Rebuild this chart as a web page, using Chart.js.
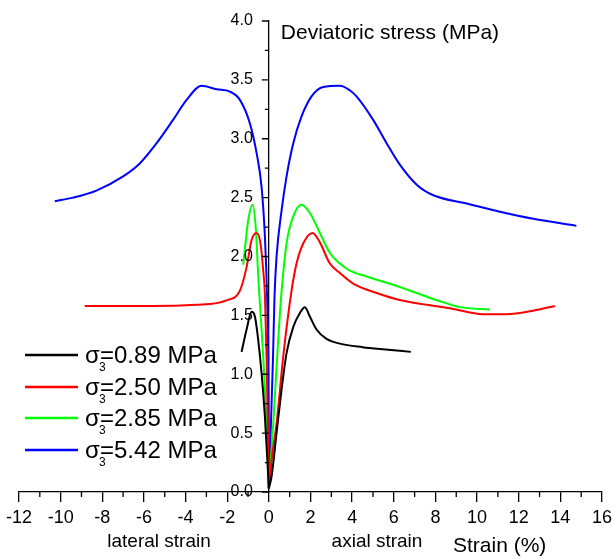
<!DOCTYPE html>
<html>
<head>
<meta charset="utf-8">
<script src="https://cdn.jsdelivr.net/npm/chart.js@4.4.1/dist/chart.umd.min.js"></script>
<style>
  html, body { margin: 0; padding: 0; background: #fff; }
  #wrap { width: 612px; height: 560px; }
</style>
</head>
<body>
<div id="wrap"><canvas id="chart" width="612" height="560"></canvas></div>
<script>
// strain (%) / deviatoric stress (MPa) pairs, each branch starts at the origin
const lateral089 = [[0,0.03],[-0.03,0.13],[-0.19,0.64],[-0.35,1.01],[-0.51,1.29],[-0.67,1.49],[-0.83,1.53],[-1.07,1.38],[-1.31,1.19]];
const axial089 = [[0,0.03],[0.13,0.13],[0.37,0.5],[0.61,0.87],[0.85,1.18],[1.17,1.4],[1.49,1.52],[1.73,1.57],[1.97,1.49],[2.29,1.38],[2.77,1.3],[3.41,1.26],[4.5,1.23],[5.6,1.21],[6.82,1.19]];

const lateral250 = [[0,0.03],[-0.05,0.58],[-0.11,1.15],[-0.19,1.68],[-0.27,1.88],[-0.4,2.11],[-0.59,2.2],[-0.83,2.14],[-1.07,1.91],[-1.39,1.71],[-2.0,1.63],[-3.5,1.59],[-6.0,1.58],[-8.84,1.58]];
const axial250 = [[0,0.03],[0.15,0.3],[0.37,0.58],[0.69,1.15],[1.09,1.71],[1.33,1.94],[1.65,2.11],[2.1,2.2],[2.45,2.12],[2.93,1.94],[3.41,1.86],[4.05,1.77],[5.18,1.69],[6.29,1.63],[7.58,1.59],[8.7,1.56],[10.3,1.51],[11.42,1.51],[12.7,1.54],[13.74,1.58]];

const lateral285 = [[0,0.03],[-0.11,0.58],[-0.27,1.15],[-0.47,1.71],[-0.53,1.9],[-0.62,2.22],[-0.78,2.44],[-0.99,2.31],[-1.23,1.93]];
const axial285 = [[0,0.03],[0.21,0.58],[0.4,1.15],[0.6,1.68],[0.85,2.11],[1.17,2.34],[1.57,2.44],[1.97,2.37],[2.45,2.2],[2.93,2.03],[3.41,1.94],[3.89,1.88],[4.69,1.83],[5.97,1.76],[7.1,1.69],[8.22,1.62],[9.18,1.57],[10.62,1.55]];

const lateral542 = [[0,0.03],[-0.01,0.58],[-0.03,1.15],[-0.08,1.63],[-0.19,2.17],[-0.35,2.59],[-0.59,2.88],[-0.91,3.13],[-1.39,3.33],[-1.87,3.4],[-2.51,3.42],[-3.23,3.45],[-3.95,3.33],[-4.6,3.16],[-5.4,2.96],[-6.2,2.79],[-7.0,2.68],[-8.28,2.56],[-9.4,2.5],[-10.28,2.47]];
const axial542 = [[0,0.03],[0.1,0.58],[0.2,1.15],[0.27,1.65],[0.37,2.0],[0.61,2.39],[0.85,2.68],[1.17,2.96],[1.57,3.19],[2.05,3.36],[2.61,3.44],[3.41,3.45],[3.9,3.41],[4.21,3.36],[5.01,3.16],[5.66,2.96],[6.29,2.78],[7.1,2.61],[7.9,2.52],[9.5,2.45],[11.1,2.38],[12.7,2.32],[14.77,2.26]];

const confining = ['0.89', '2.50', '2.85', '5.42'];
const colors = ['#000000', '#ff0000', '#00ff00', '#0000ff'];
const branches = [[lateral089, axial089], [lateral250, axial250], [lateral285, axial285], [lateral542, axial542]];

const FONT = '"Liberation Sans", Arial, sans-serif';

function toPoints(pairs) {
    return pairs.map(p => ({ x: p[0], y: p[1] }));
}

const datasets = [];
branches.forEach((pair, i) => {
    pair.forEach(branch => {
        datasets.push({
            data: toPoints(branch),
            borderColor: colors[i],
            borderWidth: 2,
            showLine: true,
            pointRadius: 0,
            cubicInterpolationMode: 'monotone',
            fill: false
        });
    });
});

// y ticks and labels at x = 0, minor x ticks, captions and the legend
const decorations = {
    id: 'decorations',
    afterDraw(chart) {
        const ctx = chart.ctx;
        const xs = chart.scales.x, ys = chart.scales.y;
        const bottom = chart.chartArea.bottom;
        const x0 = xs.getPixelForValue(0);

        ctx.save();
        ctx.strokeStyle = '#000';
        ctx.lineWidth = 1.3;
        ctx.beginPath();
        for (let v = -11; v <= 15; v += 2) {
            const px = xs.getPixelForValue(v);
            ctx.moveTo(px, bottom);
            ctx.lineTo(px, bottom + 5);
        }
        for (let v = 0; v <= 4.001; v += 0.25) {
            const py = ys.getPixelForValue(v);
            const len = Math.abs(v * 2 - Math.round(v * 2)) < 0.01 ? 7 : 4;
            ctx.moveTo(x0 - len, py);
            ctx.lineTo(x0, py);
        }
        ctx.stroke();

        ctx.fillStyle = '#000';
        ctx.textBaseline = 'middle';
        ctx.textAlign = 'right';
        ctx.font = '16px ' + FONT;
        ys.ticks.forEach(t => {
            ctx.fillText(t.value.toFixed(1), x0 - 16, ys.getPixelForValue(t.value));
        });

        ctx.font = '21px ' + FONT;
        ctx.textAlign = 'left';
        ctx.fillText('Deviatoric stress (MPa)', x0 + 12, 33);
        ctx.fillText('Strain (%)', 453, 546);
        ctx.font = '19px ' + FONT;
        ctx.textAlign = 'center';
        ctx.fillText('lateral strain', 159, 542);
        ctx.fillText('axial strain', 377, 542);

        // legend
        const rows = [355, 387, 418, 450];
        confining.forEach((val, i) => {
            const y = rows[i];
            ctx.strokeStyle = colors[i];
            ctx.lineWidth = 2.5;
            ctx.beginPath();
            ctx.moveTo(25, y);
            ctx.lineTo(78, y);
            ctx.stroke();

            ctx.fillStyle = '#000';
            ctx.textAlign = 'left';
            ctx.textBaseline = 'alphabetic';
            ctx.font = '24px ' + FONT;
            ctx.fillText('\u03c3', 85, y + 8);
            ctx.fillText('=' + val + ' MPa', 100, y + 8);
            ctx.font = '12px ' + FONT;
            ctx.fillText('3', 99, y + 16);
        });
        ctx.restore();
    }
};

new Chart(document.getElementById('chart'), {
    type: 'scatter',
    data: { datasets: datasets },
    options: {
        responsive: false,
        animation: false,
        layout: { padding: { left: 19, right: 10, top: 21, bottom: 0 } },
        plugins: {
            legend: { display: false },
            tooltip: { enabled: false }
        },
        scales: {
            x: {
                type: 'linear',
                min: -12,
                max: 16,
                afterFit: s => {
                    s.height = 68;
                    s.paddingLeft = 0;
                    s.paddingRight = 0;
                },
                ticks: {
                    stepSize: 2,
                    padding: 5,
                    color: '#000',
                    font: { family: FONT, size: 18 }
                },
                grid: { drawOnChartArea: false, tickLength: 10, color: '#000', lineWidth: 1.3 },
                border: { color: '#000', width: 1.3 }
            },
            y: {
                type: 'linear',
                min: 0,
                max: 4,
                position: { x: 0 },
                ticks: { stepSize: 0.5, display: false },
                grid: { display: false },
                border: { display: true, color: '#000', width: 1.3 }
            }
        }
    },
    plugins: [decorations]
});
</script>
</body>
</html>
